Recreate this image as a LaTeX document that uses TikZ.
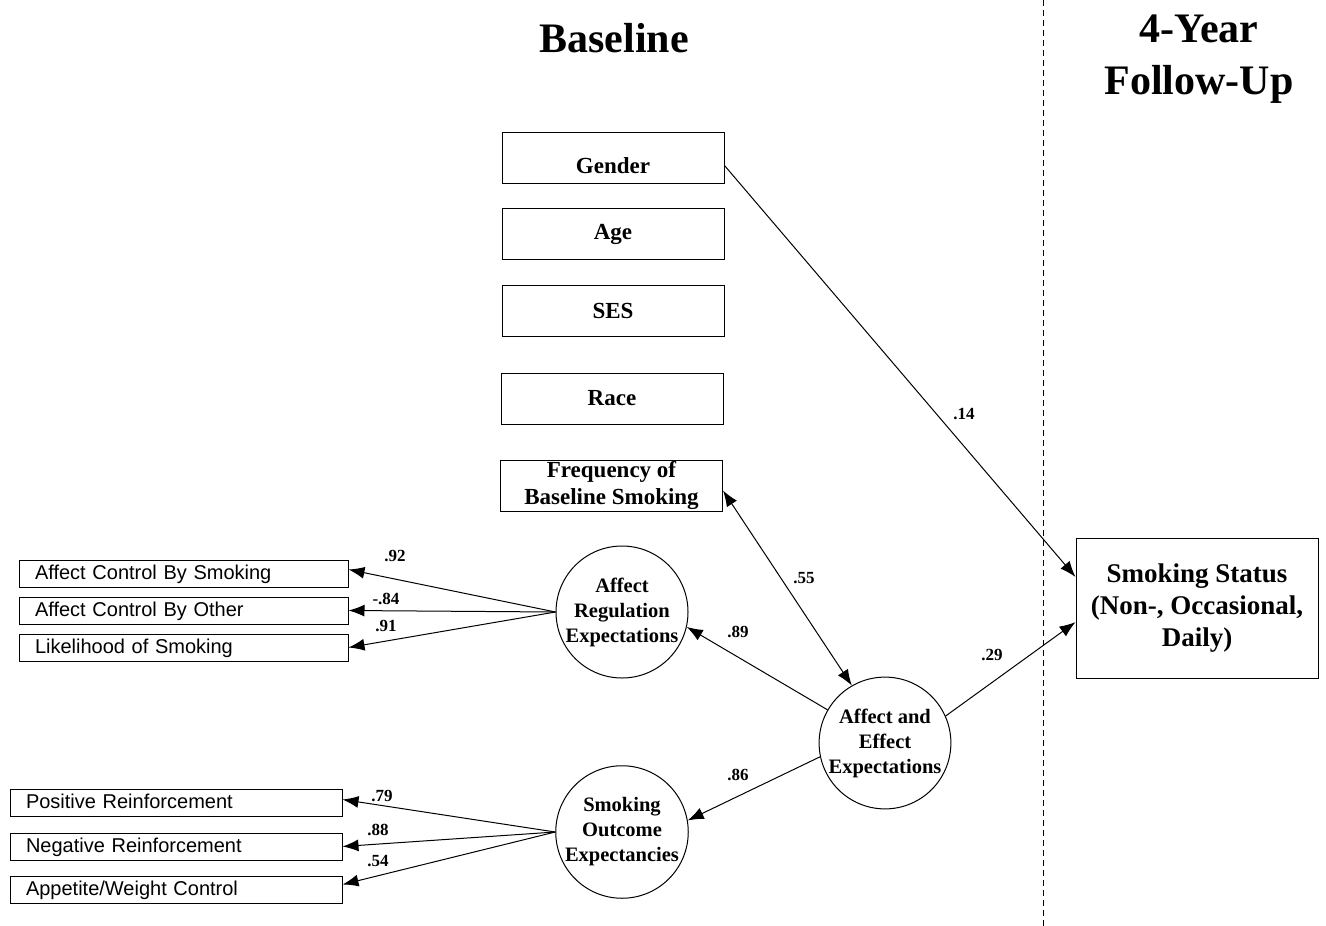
\documentclass[tikz,border=0pt]{standalone}
\usepackage{fontspec}
\setmainfont{Liberation Serif}
\newfontfamily\arialfont{Liberation Sans}
\usetikzlibrary{arrows.meta,calc}
\begin{document}
\begin{tikzpicture}[x=1pt,y=-1pt,
  line width=1pt,
  varbox/.style={draw, line width=1pt, inner sep=0pt, minimum width=222pt, minimum height=51pt, font=\fontsize{23}{27}\selectfont\bfseries, align=center},
  indbox/.style={draw, line width=1pt, inner xsep=16pt, inner ysep=0pt, minimum height=27pt, text width=297pt, text height=14.5pt, text depth=3pt, align=left, font=\arialfont\fontsize{20}{24}\selectfont},
  latent/.style={draw, circle, line width=1pt, inner sep=0pt, minimum size=132pt, align=center, font=\fontsize{20.5}{25}\selectfont\bfseries},
  coef/.style={font=\fontsize{17}{20}\selectfont\bfseries, inner sep=0pt},
  title/.style={font=\fontsize{42}{52}\selectfont\bfseries, align=center},
  path/.style={-{Latex[length=16pt,width=12pt]}, line width=1pt},
  dpath/.style={{Latex[length=16pt,width=12pt]}-{Latex[length=16pt,width=12pt]}, line width=1pt}
]
\useasboundingbox (0,0) rectangle (1326,926);

% titles
\node[title] (tbase) at (614,38) {Baseline};
\node[title] (tfollow) at (1199,59) {4-Year\\Follow-Up};

% dashed divider
\coordinate (dtop) at (1043,0);
\coordinate (dbot) at (1043,926);
\draw[dash pattern=on 6pt off 4pt, line width=0.9pt] (dtop) -- (dbot);

% observed covariates
\node[varbox] (gender) at (613,157.5) {\raisebox{-16pt}[0pt][0pt]{Gender}};
\node[varbox] (age) at (613,234) {Age};
\node[varbox] (ses) at (613,311) {SES};
\node[varbox] (race) at (612,398.5) {Race};
\node[varbox] (freq) at (611.5,485.5) {Frequency of\\Baseline Smoking};

% outcome
\node[draw, line width=1pt, minimum width=242pt, minimum height=140pt, inner sep=0pt, align=center,
      font=\fontsize{27}{32}\selectfont\bfseries] (status) at (1197,608)
      {Smoking Status\\(Non-, Occasional,\\Daily)};

% latent variables
\node[latent] (are) at (622,612) {Affect\\Regulation\\Expectations};
\node[latent] (soe) at (622,832) {Smoking\\Outcome\\Expectancies};
\node[latent, minimum size=130pt] (aee) at (885,743) {Affect and\\Effect\\Expectations};

% indicators
\node[indbox] (acs) at (183.5,573.5) {Affect Control By Smoking};
\node[indbox] (aco) at (183.5,610.5) {Affect Control By Other};
\node[indbox] (los) at (183.5,647.5) {Likelihood of Smoking};
\node[indbox, text width=300pt] (pos) at (176,802.5) {Positive Reinforcement};
\node[indbox, text width=300pt] (neg) at (176,846.5) {Negative Reinforcement};
\node[indbox, text width=300pt] (app) at (176,889.5) {Appetite/Weight Control};

% structural paths
\draw[path] ($(gender.east)+(0,8)$) -- ($(status.north west)!0.28!(status.south west)$);
\draw[dpath] ($(freq.east)+(0,5)$) -- (aee.120);
\draw[path] (aee.150) -- (are.-13);
\draw[path] (aee.24) -- ($(status.north west)!0.6!(status.south west)$);
\draw[path] (aee.192) -- (soe.10);

% measurement paths
\draw[path] (are.west) -- ($(acs.east)+(0,-4)$);
\draw[path] (are.west) -- (aco.east);
\draw[path] (are.west) -- (los.east);
\draw[path] (soe.west) -- ($(pos.east)+(0,-3)$);
\draw[path] (soe.west) -- (neg.east);
\draw[path] (soe.west) -- ($(app.east)+(0,-5)$);

% coefficients
\node[coef] (c14) at (964,414) {.14};
\node[coef] (c55) at (804,578) {.55};
\node[coef] (c89) at (738,632) {.89};
\node[coef] (c29) at (992,655) {.29};
\node[coef] (c86) at (738,775) {.86};
\node[coef] (c92) at (395,556) {.92};
\node[coef] (c84) at (386,599) {-.84};
\node[coef] (c91) at (386,626) {.91};
\node[coef] (c79) at (382,796) {.79};
\node[coef] (c88) at (378,830) {.88};
\node[coef] (c54) at (378,861) {.54};
\end{tikzpicture}
\end{document}
